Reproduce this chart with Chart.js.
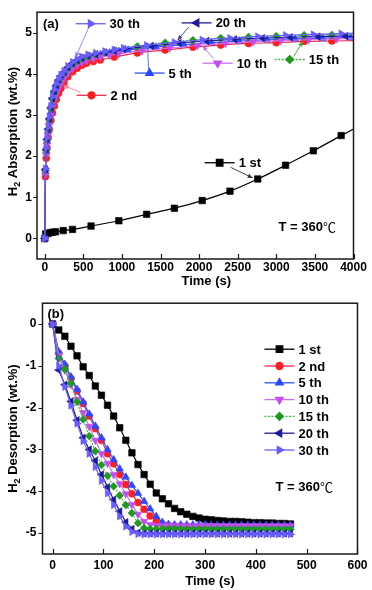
<!DOCTYPE html>
<html><head><meta charset="utf-8">
<script src="https://cdn.jsdelivr.net/npm/chart.js@4.4.1/dist/chart.umd.min.js"></script>
<style>
html,body{margin:0;padding:0;background:#fff;width:372px;height:590px;overflow:hidden;}
#ca{position:absolute;left:0;top:0;}
#cb{position:absolute;left:0;top:290px;}
</style></head><body>
<canvas id="ca" width="372" height="290"></canvas>
<canvas id="cb" width="372" height="300"></canvas>
<script>
// ---------------- DATA ----------------
const seriesNames = ['1 st','2 nd','5 th','10 th','15 th','20 th','30 th'];

// Panel (a): absorption, time (s) / wt.%
const tA1  = [0,12,40,70,100,140,240,360,600,960,1320,1680,2040,2400,2760,3120,3480,3840,4000];
const yA1  = [0,0.11,0.12,0.14,0.15,0.16,0.19,0.22,0.30,0.43,0.585,0.735,0.92,1.15,1.445,1.78,2.13,2.50,2.66];
const tA2  = [0,10,20,30,45,60,80,100,125,150,180,210,250,300,360,420,480,540,630,720,900,1200,1560,1920,2280,2640,3000,3360,3720,4000];
const yA2  = [0,1.5,1.95,2.2,2.45,2.65,2.87,3.05,3.22,3.38,3.53,3.65,3.79,3.93,4.05,4.14,4.21,4.26,4.30,4.34,4.41,4.51,4.58,4.65,4.70,4.74,4.76,4.79,4.80,4.81];
const tA5  = [0,10,20,30,45,60,80,100,125,150,180,210,250,300,360,420,480,540,630,720,840,960,1080,1440,1800,2160,2520,2880,3240,3600,3960,4000];
const yA5  = [0,1.62,2.10,2.35,2.60,2.83,3.08,3.29,3.46,3.61,3.74,3.85,3.96,4.09,4.19,4.27,4.34,4.38,4.43,4.47,4.51,4.55,4.58,4.65,4.71,4.76,4.80,4.83,4.85,4.87,4.88,4.88];
const tA10 = [0,10,20,30,45,60,80,100,125,150,180,210,250,300,360,420,480,540,630,720,840,960,1260,1620,1980,2340,2700,3060,3420,3780,4000];
const yA10 = [0,1.57,2.04,2.29,2.54,2.76,2.99,3.19,3.36,3.51,3.65,3.77,3.89,4.02,4.13,4.22,4.28,4.32,4.37,4.41,4.45,4.49,4.56,4.63,4.69,4.74,4.78,4.81,4.83,4.85,4.86];
const tA15 = [0,10,20,30,45,60,80,100,125,150,180,210,250,300,360,420,480,560,660,780,900,1200,1560,1920,2280,2640,3000,3360,3720,4000];
const yA15 = [0,1.66,2.14,2.39,2.64,2.88,3.15,3.38,3.55,3.70,3.82,3.92,4.02,4.14,4.24,4.31,4.37,4.42,4.47,4.52,4.57,4.67,4.76,4.82,4.87,4.90,4.92,4.94,4.95,4.96];
const tA20 = [0,10,20,30,45,60,80,100,125,150,180,210,250,300,360,420,480,560,660,780,900,1020,1380,1740,2100,2460,2820,3180,3540,3900,4000];
const yA20 = [0,1.68,2.16,2.41,2.66,2.91,3.18,3.41,3.58,3.72,3.85,3.95,4.04,4.16,4.26,4.33,4.39,4.44,4.48,4.52,4.56,4.60,4.68,4.75,4.80,4.84,4.87,4.89,4.91,4.92,4.92];
const tA30 = [0,10,20,30,45,60,80,100,125,150,180,210,250,300,360,420,480,560,660,780,900,1020,1320,1680,2040,2400,2760,3120,3480,3840,4000];
const yA30 = [0,1.7,2.2,2.45,2.7,2.95,3.22,3.45,3.62,3.76,3.88,3.98,4.07,4.19,4.29,4.36,4.42,4.47,4.51,4.55,4.59,4.63,4.70,4.77,4.83,4.87,4.91,4.94,4.96,4.98,4.99];

// Panel (b): desorption
const tB  = [0,12,24,36,48,60,72,84,96,108,120,132,144,156,168,180,192,204,216,228,240,252,264,276,288,300,312,324,336,348,360,372,384,396,408,420,432,444,456,468];
const tB2 = [0,12,24,36,48,60,72,84,96,108,120,132,144,156,168,180,192,204,216,228,240,252,264,276,288,300,312,324,336,348,360,372,384,396];
const yB1  = [0,-0.14,-0.29,-0.53,-0.76,-1.02,-1.23,-1.48,-1.70,-1.94,-2.20,-2.48,-2.78,-3.08,-3.36,-3.60,-3.83,-4.04,-4.18,-4.30,-4.41,-4.49,-4.55,-4.60,-4.64,-4.67,-4.68,-4.70,-4.71,-4.72,-4.72,-4.73,-4.74,-4.75,-4.75,-4.76,-4.76,-4.77,-4.77,-4.78];
const yB2  = [0,-0.70,-1.00,-1.30,-1.60,-1.90,-2.20,-2.50,-2.78,-3.10,-3.34,-3.60,-3.84,-4.06,-4.27,-4.43,-4.59,-4.72,-4.79,-4.82,-4.83,-4.83,-4.84,-4.84,-4.84,-4.84,-4.84,-4.85,-4.85,-4.85,-4.85,-4.85,-4.85,-4.85];
const yB5  = [0,-0.66,-0.96,-1.26,-1.56,-1.86,-2.15,-2.44,-2.72,-3.00,-3.24,-3.46,-3.66,-3.86,-4.05,-4.24,-4.42,-4.60,-4.74,-4.79,-4.80,-4.80,-4.80,-4.80,-4.80,-4.80,-4.81,-4.81,-4.81,-4.81,-4.81,-4.81,-4.81,-4.81,-4.81,-4.81,-4.81,-4.81,-4.81,-4.81];
const yB10 = [0,-0.75,-1.10,-1.45,-1.80,-2.12,-2.45,-2.78,-3.10,-3.33,-3.60,-3.82,-4.06,-4.32,-4.55,-4.72,-4.80,-4.82,-4.82,-4.82,-4.82,-4.83,-4.83,-4.83,-4.83,-4.83,-4.83,-4.83,-4.83,-4.83,-4.83,-4.83,-4.83,-4.83,-4.83,-4.83,-4.83,-4.83,-4.83,-4.83];
const yB15 = [0,-0.82,-1.08,-1.42,-1.86,-2.28,-2.68,-3.04,-3.37,-3.63,-3.88,-4.10,-4.33,-4.52,-4.76,-4.88,-4.90,-4.90,-4.90,-4.90,-4.90,-4.90,-4.91,-4.91,-4.91,-4.91,-4.91,-4.91,-4.91,-4.91,-4.91,-4.91,-4.91,-4.91,-4.91,-4.91,-4.91,-4.91,-4.91,-4.91];
const yB20 = [0,-1.10,-1.45,-1.85,-2.30,-2.72,-3.00,-3.27,-3.60,-3.90,-4.20,-4.48,-4.74,-4.90,-4.99,-5.01,-5.01,-5.01,-5.01,-5.01,-5.01,-5.01,-5.01,-5.01,-5.01,-5.01,-5.01,-5.01,-5.01,-5.01,-5.01,-5.01,-5.01,-5.01,-5.01,-5.01,-5.01,-5.01,-5.01,-5.01];
const yB30 = [0,-1.00,-1.50,-1.95,-2.38,-2.80,-3.10,-3.42,-3.75,-4.05,-4.33,-4.60,-4.84,-4.97,-5.02,-5.03,-5.03,-5.03,-5.03,-5.03,-5.03,-5.03,-5.03,-5.03,-5.03,-5.03,-5.03,-5.03,-5.03,-5.03,-5.03,-5.03,-5.03,-5.03,-5.03,-5.03,-5.03,-5.03,-5.03,-5.03];

// Tick values
const xTicksA = [0,500,1000,1500,2000,2500,3000,3500,4000];
const yTicksA = [0,1,2,3,4,5];
const xTicksB = [0,100,200,300,400,500,600];
const yTicksB = [0,-1,-2,-3,-4,-5];

// Annotation (a): label, series index, sample centre, arrow from, arrow to (data units)
const annoSeries = [6,5,2,3,4,1,0];
const annoSX = [594,1968,1358,2240,3174,606,2266];
const annoSY = [5.22,5.24,4.02,4.26,4.35,3.48,1.84];
const annoFX = [573,1866,1345,2188,3226,463,2408];
const annoFY = [5.14,5.14,4.11,4.37,4.42,3.55,1.73];
const annoTX = [398,1721,1332,2045,3342,243,2694];
const annoTY = [4.40,4.82,4.72,4.68,4.79,3.72,1.47];

// ---------------- STYLE ----------------
const FONT = "'Liberation Sans', Arial, Helvetica, sans-serif";
const STY = [
  {c:'#000000', l:'#000000', a:'#333333', s:'rect',     rot:0,   r:4.6},
  {c:'#ff1f1f', l:'#f02a50', a:'#f07aa0', s:'circle',   rot:0,   r:3.5},
  {c:'#2a48ff', l:'#3050ff', a:'#3f66ff', s:'triangle', rot:0,   r:4.3},
  {c:'#c24ef0', l:'#c870f5', a:'#c070f0', s:'triangle', rot:180, r:4.3},
  {c:'#1e9a1e', l:'#3cbc3c', a:'#30b030', s:'rectRot',  rot:0,   r:3.9, dash:[2,1.5]},
  {c:'#1c1c96', l:'#1c1c96', a:'#3a3aa8', s:'triangle', rot:-90, r:4.3},
  {c:'#6a5cff', l:'#6a5cff', a:'#8a7cff', s:'triangle', rot:90,  r:4.3}
];

function mk(i, xs, ys, smooth) {
  const s = STY[i];
  return {
    label: seriesNames[i],
    data: xs.map((x, k) => ({x: x, y: ys[k]})),
    borderColor: s.l, backgroundColor: s.c,
    pointBackgroundColor: s.c, pointBorderColor: s.c,
    pointStyle: s.s, pointRotation: s.rot,
    pointRadius: ctx => (ctx.raw && ctx.raw.x >= 4000 ? 0 : s.r),
    pointBorderWidth: 0.6,
    borderWidth: 1.2, borderDash: s.dash || [],
    tension: smooth ? 0.3 : 0,
    cubicInterpolationMode: smooth ? 'monotone' : 'default',
    order: 6 - i, fill: false
  };
}

function marker(ctx, i, x, y) {
  const s = STY[i];
  ctx.fillStyle = s.c; ctx.strokeStyle = s.c;
  Chart.helpers.drawPoint(ctx, {pointStyle: s.s, rotation: s.rot, radius: s.r, borderWidth: 0.6}, x, y);
}
function sample(ctx, i, cx, cy) {
  const s = STY[i];
  ctx.save();
  ctx.strokeStyle = s.l; ctx.lineWidth = 1.3; ctx.setLineDash(s.dash || []);
  ctx.beginPath(); ctx.moveTo(cx - 15, cy); ctx.lineTo(cx + 15, cy); ctx.stroke();
  ctx.setLineDash([]);
  marker(ctx, i, cx, cy);
  ctx.restore();
}
function yTitle(ctx, cx, cy, rest) {
  ctx.save();
  ctx.translate(cx, cy); ctx.rotate(-Math.PI / 2);
  ctx.fillStyle = '#000'; ctx.textAlign = 'left'; ctx.textBaseline = 'alphabetic';
  const f1 = 'bold 13px ' + FONT, f2 = 'bold 9px ' + FONT;
  ctx.font = f1; const wH = ctx.measureText('H').width, wR = ctx.measureText(rest).width;
  ctx.font = f2; const w2 = ctx.measureText('2').width;
  const x0 = -(wH + w2 + wR) / 2;
  ctx.font = f1; ctx.fillText('H', x0, 4.5);
  ctx.font = f2; ctx.fillText('2', x0 + wH, 8);
  ctx.font = f1; ctx.fillText(rest, x0 + wH + w2, 4.5);
  ctx.restore();
}
function tempLabel(ctx, x, y) {
  ctx.save();
  ctx.fillStyle = '#000'; ctx.textAlign = 'left'; ctx.textBaseline = 'middle';
  ctx.font = 'bold 13px ' + FONT;
  ctx.fillText('T = 360', x, y);
  const w = ctx.measureText('T = 360').width;
  ctx.font = "13px 'Noto Sans CJK SC', 'DejaVu Sans', sans-serif";
  ctx.fillText('\u2103', x + w, y);
  ctx.restore();
}
function frameTicks(ctx, chart, xt, yt) {
  const ca = chart.chartArea, x = chart.scales.x, y = chart.scales.y;
  ctx.save();
  ctx.strokeStyle = '#1a1a1a'; ctx.lineWidth = 1.5;
  ctx.strokeRect(ca.left, ca.top, ca.right - ca.left, ca.bottom - ca.top);
  ctx.lineWidth = 1.2; ctx.beginPath();
  xt.forEach(v => { const p = Math.round(x.getPixelForValue(v)) + 0.5; ctx.moveTo(p, ca.bottom); ctx.lineTo(p, ca.bottom - 5); });
  yt.forEach(v => { const p = Math.round(y.getPixelForValue(v)) + 0.5; ctx.moveTo(ca.left, p); ctx.lineTo(ca.left - 4, p); });
  ctx.stroke();
  ctx.restore();
}
function arrow(ctx, x1, y1, x2, y2, col) {
  ctx.save();
  ctx.strokeStyle = col; ctx.fillStyle = col; ctx.lineWidth = 0.9;
  ctx.beginPath(); ctx.moveTo(x1, y1); ctx.lineTo(x2, y2); ctx.stroke();
  const a = Math.atan2(y2 - y1, x2 - x1), L = 5, W = 2.2;
  ctx.beginPath(); ctx.moveTo(x2, y2);
  ctx.lineTo(x2 - L * Math.cos(a) + W * Math.sin(a), y2 - L * Math.sin(a) - W * Math.cos(a));
  ctx.lineTo(x2 - L * Math.cos(a) - W * Math.sin(a), y2 - L * Math.sin(a) + W * Math.cos(a));
  ctx.closePath(); ctx.fill();
  ctx.restore();
}

const decorA = {
  id: 'decorA',
  afterDraw(chart) {
    const ctx = chart.ctx, ca = chart.chartArea, x = chart.scales.x, y = chart.scales.y;
    frameTicks(ctx, chart, xTicksA, yTicksA);
    ctx.save();
    for (let k = 0; k < annoSeries.length; k++) {
      const i = annoSeries[k];
      arrow(ctx, x.getPixelForValue(annoFX[k]), y.getPixelForValue(annoFY[k]),
                 x.getPixelForValue(annoTX[k]), y.getPixelForValue(annoTY[k]), STY[i].a);
      const cx = x.getPixelForValue(annoSX[k]), cy = y.getPixelForValue(annoSY[k]);
      sample(ctx, i, cx, cy);
      ctx.fillStyle = '#000'; ctx.font = 'bold 13px ' + FONT; ctx.textAlign = 'left'; ctx.textBaseline = 'middle';
      ctx.fillText(seriesNames[i], cx + 19, cy + 1);
    }
    ctx.fillStyle = '#000'; ctx.font = 'bold 13px ' + FONT; ctx.textAlign = 'left'; ctx.textBaseline = 'middle';
    ctx.fillText('(a)', ca.left + 6, ca.top + 12);
    tempLabel(ctx, ca.right - 75, ca.bottom - 32);
    ctx.font = 'bold 13px ' + FONT; ctx.textAlign = 'center'; ctx.fillStyle = '#000';
    ctx.fillText('Time (s)', (ca.left + ca.right) / 2 + 11, ca.bottom + 22);
    yTitle(ctx, 12, (ca.top + ca.bottom) / 2 - 4, ' Absorption (wt.%)');
    ctx.restore();
  }
};
const decorB = {
  id: 'decorB',
  afterDraw(chart) {
    const ctx = chart.ctx, ca = chart.chartArea;
    frameTicks(ctx, chart, xTicksB, yTicksB);
    ctx.save();
    for (let i = 0; i < seriesNames.length; i++) {
      const cy = ca.top + 46 + 16.8 * i, cx = ca.right - 78;
      sample(ctx, i, cx, cy);
      ctx.fillStyle = '#000'; ctx.font = 'bold 13px ' + FONT; ctx.textAlign = 'left'; ctx.textBaseline = 'middle';
      ctx.fillText(seriesNames[i], cx + 19, cy + 1);
    }
    ctx.fillStyle = '#000'; ctx.font = 'bold 13px ' + FONT; ctx.textAlign = 'left'; ctx.textBaseline = 'middle';
    ctx.fillText('(b)', ca.left + 5, ca.top + 11);
    tempLabel(ctx, ca.right - 82, ca.top + 184);
    ctx.font = 'bold 13px ' + FONT; ctx.textAlign = 'center'; ctx.fillStyle = '#000';
    ctx.fillText('Time (s)', (ca.left + ca.right) / 2 + 10, ca.bottom + 27);
    yTitle(ctx, 12, (ca.top + ca.bottom) / 2, ' Desorption (wt.%)');
    ctx.restore();
  }
};

function scales(xmin, xmax, ymin, ymax, xt, yt, yW, xH, xPad, yPad) {
  const tickFont = {family: FONT, size: 12, weight: 'bold'};
  return {
    x: {type: 'linear', min: xmin, max: xmax,
        afterBuildTicks: s => { s.ticks = xt.map(v => ({value: v})); },
        afterFit: s => { s.height = xH; },
        grid: {display: false, drawTicks: false}, border: {display: false},
        ticks: {font: tickFont, color: '#000', padding: xPad, maxRotation: 0, autoSkip: false, callback: v => String(v)}},
    y: {type: 'linear', min: ymin, max: ymax,
        afterBuildTicks: s => { s.ticks = yt.map(v => ({value: v})); },
        afterFit: s => { s.width = yW; },
        grid: {display: false, drawTicks: false}, border: {display: false},
        ticks: {font: tickFont, color: '#000', padding: yPad, autoSkip: false, callback: v => String(v)}}
  };
}
const common = {
  responsive: false, animation: false, devicePixelRatio: 1,
  plugins: {legend: {display: false}, tooltip: {enabled: false}},
  events: []
};

new Chart(document.getElementById('ca'), {
  type: 'line',
  data: {datasets: [
    mk(0, tA1, yA1, true), mk(1, tA2, yA2, true), mk(2, tA5, yA5, true), mk(3, tA10, yA10, true),
    mk(4, tA15, yA15, true), mk(5, tA20, yA20, true), mk(6, tA30, yA30, true)
  ]},
  options: Object.assign({}, common, {
    layout: {autoPadding: false, padding: {left: 0, right: 18.5, top: 3, bottom: 0}},
    scales: scales(-100, 4000, -0.5, 5.5, xTicksA, yTicksA, 37, 31, 1, 5)
  }),
  plugins: [decorA]
});

new Chart(document.getElementById('cb'), {
  type: 'line',
  data: {datasets: [
    mk(0, tB, yB1, false), mk(1, tB2, yB2, false), mk(2, tB, yB5, false), mk(3, tB, yB10, false),
    mk(4, tB, yB15, false), mk(5, tB, yB20, false), mk(6, tB, yB30, false)
  ]},
  options: Object.assign({}, common, {
    layout: {autoPadding: false, padding: {left: 0, right: 12, top: 9, bottom: 0}},
    scales: scales(-20, 600, -5.5, 0.5, xTicksB, yTicksB, 42.5, 36, 4.5, 6)
  }),
  plugins: [decorB]
});
</script>
</body></html>
